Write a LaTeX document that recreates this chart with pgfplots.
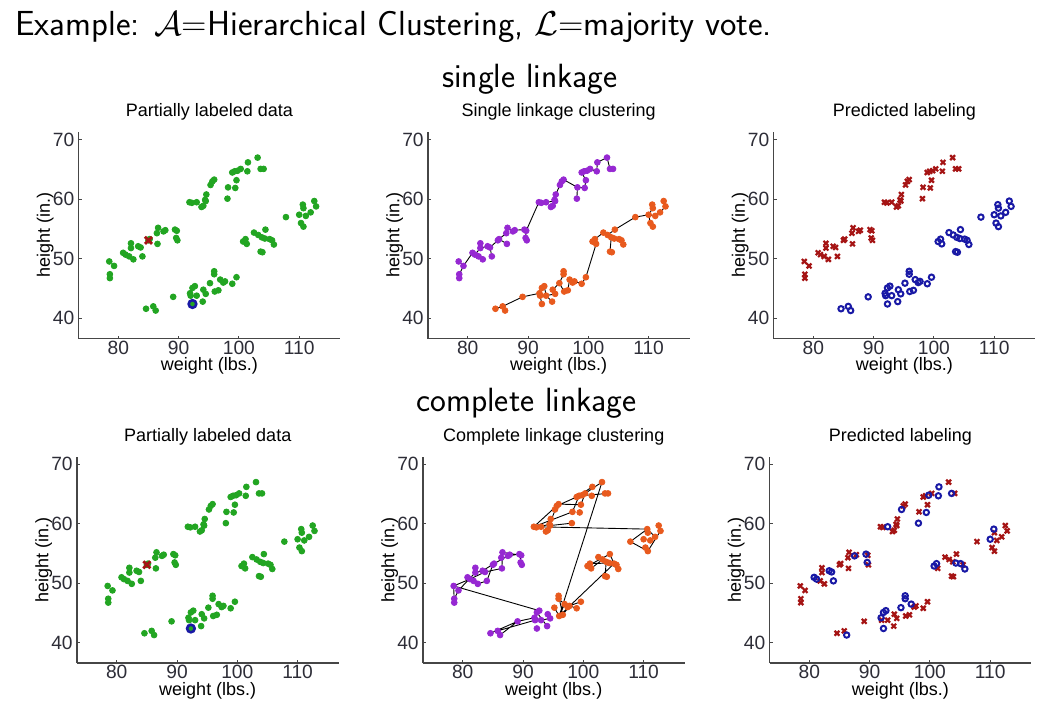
\documentclass[border=0pt]{standalone}
\usepackage{fontspec}
\setmainfont{Liberation Sans}
\usepackage{pgfplots}
\usepackage{pgfplotstable}
\pgfplotsset{compat=1.18}
\definecolor{mgreen}{RGB}{34,165,34}
\definecolor{mred}{RGB}{165,20,20}
\definecolor{mblue}{RGB}{25,25,165}
\definecolor{mpurple}{RGB}{150,40,210}
\definecolor{morange}{RGB}{232,90,30}
\definecolor{axgray}{RGB}{70,70,70}
\definecolor{tkgray}{RGB}{45,45,55}

% columns: x y group single-cluster complete-cluster complete-prediction(1=blue)
\pgfplotstableread{
x y g s c p
78.5 49.55 1 1 1 0
79.3 48.8 1 1 1 0
78.6 47.4 1 1 1 0
78.6 46.75 1 1 1 0
80.8 51.0 1 1 1 1
81.2 50.7 1 1 1 1
82.1 52.6 1 1 1 0
82.1 51.8 1 1 1 0
82.5 49.9 1 1 1 0
81.8 50.4 1 1 1 0
83.3 52.1 1 1 1 1
83.7 51.9 1 1 1 1
84.0 50.4 1 1 1 1
85.2 53.3 1 1 1 0
86.5 52.5 1 1 1 0
86.4 54.3 1 1 1 0
86.6 55.2 1 1 1 0
87.5 54.6 1 1 1 1
87.8 54.8 1 1 1 0
89.4 54.9 1 1 1 1
89.7 54.7 1 1 1 0
89.6 53.5 1 1 1 1
89.8 53.1 1 1 1 0
85.0 53.1 1 1 1 0
91.8 59.5 2 1 2 0
92.2 59.4 2 1 2 0
93.0 59.5 2 1 2 1
93.8 58.7 2 1 2 0
94.1 58.9 2 1 2 0
94.4 59.9 2 1 2 0
94.6 60.8 2 1 2 0
94.5 59.7 2 1 2 0
95.3 62.4 2 1 2 1
95.6 63.0 2 1 2 0
95.9 63.3 2 1 2 0
98.2 62.0 2 1 2 0
98.1 60.1 2 1 2 1
99.4 61.9 2 1 2 1
99.6 63.2 2 1 2 0
98.9 64.5 2 1 2 0
99.3 64.7 2 1 2 0
99.8 64.8 2 1 2 1
100.3 65.1 2 1 2 0
101.5 66.2 2 1 2 1
101.4 64.7 2 1 2 1
103.1 67.0 2 1 2 0
103.6 65.1 2 1 2 1
104.1 65.1 2 1 2 0
84.6 41.6 3 2 1 0
85.8 42.0 3 2 1 0
86.2 41.3 3 2 1 1
89.1 43.6 3 2 1 0
91.9 44.2 3 2 1 1
92.3 45.1 3 2 1 1
92.7 45.4 3 2 1 1
92.0 43.8 3 2 1 0
92.3 42.4 3 2 1 1
93.0 43.8 3 2 1 0
94.0 42.8 3 2 1 0
94.1 44.8 3 2 1 0
94.5 44.1 3 2 1 0
95.2 45.9 3 2 2 1
95.9 47.9 3 2 2 1
95.9 47.4 3 2 2 1
96.0 44.5 3 2 2 0
96.6 44.7 3 2 2 0
96.9 46.5 3 2 2 1
97.4 46.0 3 2 2 0
97.7 46.2 3 2 2 0
98.9 45.8 3 2 2 0
99.6 46.9 3 2 2 0
100.7 52.9 4 2 2 1
101.1 53.3 4 2 2 1
101.3 52.5 4 2 2 0
102.5 54.4 4 2 2 0
103.2 54.0 4 2 2 0
103.8 53.6 4 2 2 0
104.4 54.9 4 2 2 0
104.3 53.4 4 2 2 1
103.6 51.2 4 2 2 0
103.9 51.1 4 2 2 0
105.1 53.3 4 2 2 1
105.5 53.1 4 2 2 0
105.8 52.4 4 2 2 1
107.8 57.0 4 2 2 0
110.0 57.4 4 2 2 1
110.6 59.1 4 2 2 1
110.7 58.5 4 2 2 0
110.3 56.0 4 2 2 0
110.7 55.4 4 2 2 0
111.1 57.2 4 2 2 0
111.9 57.8 4 2 2 0
112.5 59.7 4 2 2 0
112.8 58.8 4 2 2 0
}\pts

\pgfplotsset{
  panel/.style={
    scale only axis, width=130.85pt, height=103.25pt,
    xmin=73.4, xmax=116.8, ymin=36.6, ymax=71.3,
    axis x line*=bottom, axis y line*=left,
    axis line style={axgray, line width=0.6pt, -},
    xtick={80,90,100,110}, ytick={40,50,60,70},
    tick align=inside, major tick length=1.5pt,
    tick style={axgray, line width=0.5pt},
    /pgf/number format/assume math mode=true,
    tick label style={font=\fontsize{9.6}{10}\selectfont, text=tkgray},
    xticklabel style={yshift=2.3pt},
    yticklabel style={xshift=1.4pt},
    label style={font=\fontsize{9}{10}\selectfont},
    xlabel={weight (lbs.)}, ylabel={height (in.)},
    xlabel style={at={(axis description cs:0.5,-0.155)}, anchor=base},
    ylabel style={at={(axis description cs:-0.109,0.5)}, anchor=base},
    title style={at={(axis description cs:0.5,1.015)}, anchor=base, font=\fontsize{9}{10}\selectfont},
    anchor=south west,
  },
  dots/.style={only marks, mark=*, mark size=1.45pt},
  xs/.style={only marks, mark=x, mark size=1.7pt, color=mred, line width=1.1pt},
  os/.style={only marks, mark=o, mark size=1.35pt, color=mblue, line width=1pt},
  lx/.style={only marks, mark=x, mark size=2.5pt, color=mred, line width=1.4pt},
  lo/.style={only marks, mark=o, mark size=1.9pt, color=mblue, line width=1.3pt},
  edges/.style={black, line width=0.45pt, no marks, unbounded coords=jump},
}

\begin{document}
\begin{tikzpicture}
\useasboundingbox (0,0) rectangle (528.5pt,-354.5pt);

\node[anchor=base west, inner sep=0pt, font=\sffamily\fontsize{17.4}{19}\selectfont] at (7.5pt,-17.5pt)
  {Example: $\mathcal{A}$=Hierarchical Clustering, $\mathcal{L}$=majority vote.};
\node[anchor=base, inner sep=0pt, font=\sffamily\fontsize{16.8}{18}\selectfont] at (265pt,-43.5pt) {single linkage};
\node[anchor=base, inner sep=0pt, font=\sffamily\fontsize{16.8}{18}\selectfont] at (263.25pt,-205.5pt) {complete linkage};

% ---------- top row ----------
\begin{axis}[panel, at={(39.25pt,-169.25pt)}, title={Partially labeled data}]
\addplot[dots, color=mgreen] table[x=x,y=y] {\pts};
\addplot[lx] coordinates {(85.0,53.1)};
\addplot[lo] coordinates {(92.3,42.4)};
\end{axis}

\begin{axis}[panel, at={(213.95pt,-169.25pt)}, title={Single linkage clustering}]
\addplot[dots, color=mpurple, restrict expr to domain={\thisrow{s}}{0.5:1.5}] table[x=x,y=y] {\pts};
\addplot[dots, color=morange, restrict expr to domain={\thisrow{s}}{1.5:2.5}] table[x=x,y=y] {\pts};
\addplot[edges] coordinates {
(78.6,46.75) (78.6,47.4) (79.3,48.8) (78.5,49.55) (nan,nan)
(79.3,48.8) (80.8,51.0) (81.2,50.7) (82.1,51.8) (82.1,52.6) (nan,nan)
(81.2,50.7) (81.8,50.4) (82.5,49.9) (nan,nan)
(82.1,51.8) (83.3,52.1) (83.7,51.9) (84.0,50.4) (nan,nan)
(83.7,51.9) (85.0,53.1) (85.2,53.3) (86.5,52.5) (nan,nan)
(85.2,53.3) (86.4,54.3) (86.6,55.2) (87.5,54.6) (87.8,54.8) (89.4,54.9) (89.7,54.7) (89.6,53.5) (89.8,53.1) (nan,nan)
(89.7,54.7) (91.8,59.5) (92.2,59.4) (93.0,59.5) (94.5,59.7) (94.4,59.9) (94.6,60.8) (95.3,62.4) (95.6,63.0) (95.9,63.3) (98.2,62.0) (98.1,60.1) (nan,nan)
(94.5,59.7) (93.8,58.7) (94.1,58.9) (nan,nan)
(98.2,62.0) (99.4,61.9) (99.6,63.2) (98.9,64.5) (99.3,64.7) (99.8,64.8) (100.3,65.1) (101.4,64.7) (101.5,66.2) (103.1,67.0) (103.6,65.1) (104.1,65.1) (nan,nan)
(84.6,41.6) (85.8,42.0) (86.2,41.3) (nan,nan)
(85.8,42.0) (89.1,43.6) (91.9,44.2) (92.0,43.8) (93.0,43.8) (92.7,45.4) (92.3,45.1) (nan,nan)
(92.0,43.8) (92.3,42.4) (nan,nan)
(93.0,43.8) (94.0,42.8) (nan,nan)
(93.0,43.8) (94.5,44.1) (94.1,44.8) (95.2,45.9) (96.0,44.5) (96.6,44.7) (96.9,46.5) (97.4,46.0) (97.7,46.2) (98.9,45.8) (99.6,46.9) (101.3,52.5) (100.7,52.9) (101.1,53.3) (102.5,54.4) (103.2,54.0) (103.8,53.6) (104.3,53.4) (105.1,53.3) (105.5,53.1) (105.8,52.4) (nan,nan)
(103.8,53.6) (103.6,51.2) (103.9,51.1) (nan,nan)
(103.2,54.0) (104.4,54.9) (107.8,57.0) (110.0,57.4) (111.1,57.2) (111.9,57.8) (112.8,58.8) (112.5,59.7) (nan,nan)
(110.0,57.4) (110.7,58.5) (110.6,59.1) (nan,nan)
(110.0,57.4) (110.3,56.0) (110.7,55.4) (nan,nan)
(95.2,45.9) (95.9,47.4) (95.9,47.9)
};
\end{axis}

\begin{axis}[panel, at={(386.75pt,-169.25pt)}, title={Predicted labeling}]
\addplot[xs, restrict expr to domain={\thisrow{s}}{0.5:1.5}] table[x=x,y=y] {\pts};
\addplot[os, restrict expr to domain={\thisrow{s}}{1.5:2.5}] table[x=x,y=y] {\pts};
\end{axis}

% ---------- bottom row ----------
\begin{axis}[panel, at={(38.45pt,-331.5pt)}, title={Partially labeled data}]
\addplot[dots, color=mgreen] table[x=x,y=y] {\pts};
\addplot[lx] coordinates {(85.0,53.1)};
\addplot[lo] coordinates {(92.3,42.4)};
\end{axis}

\begin{axis}[panel, at={(211.45pt,-331.5pt)}, title={Complete linkage clustering}]
\addplot[dots, color=mpurple, restrict expr to domain={\thisrow{c}}{0.5:1.5}] table[x=x,y=y] {\pts};
\addplot[dots, color=morange, restrict expr to domain={\thisrow{c}}{1.5:2.5}] table[x=x,y=y] {\pts};
\addplot[edges] coordinates {
(78.6,47.4) (79.3,48.8) (82.1,51.8) (83.3,52.1) (85.2,53.3) (87.5,54.6) (89.4,54.9) (89.8,53.1) (nan,nan)
(78.5,49.55) (81.2,50.7) (83.7,51.9) (86.5,52.5) (86.6,55.2) (89.7,54.7) (nan,nan)
(78.6,46.75) (78.5,49.55) (92.7,45.4) (nan,nan)
(82.5,49.9) (84.0,50.4) (85.0,53.1) (nan,nan)
(84.6,41.6) (89.1,43.6) (91.9,44.2) (93.0,43.8) (94.5,44.1) (94.1,44.8) (nan,nan)
(85.8,42.0) (92.0,43.8) (92.3,45.1) (94.0,42.8) (nan,nan)
(86.2,41.3) (89.1,43.6) (nan,nan)
(96.0,44.5) (103.1,67.0) (nan,nan)
(96.0,44.5) (105.1,53.3) (nan,nan)
(95.2,45.9) (96.0,44.5) (96.9,46.5) (98.9,45.8) (nan,nan)
(95.9,47.9) (96.6,44.7) (97.7,46.2) (99.6,46.9) (nan,nan)
(95.9,47.4) (97.4,46.0) (nan,nan)
(91.8,59.5) (110.6,59.1) (nan,nan)
(91.8,59.5) (95.9,63.3) (99.6,63.2) (100.3,65.1) (103.1,67.0) (nan,nan)
(91.8,59.5) (98.2,62.0) (99.3,64.7) (104.1,65.1) (nan,nan)
(92.2,59.4) (94.4,59.9) (95.6,63.0) (98.9,64.5) (101.5,66.2) (nan,nan)
(93.8,58.7) (94.5,59.7) (98.1,60.1) (nan,nan)
(107.8,57.0) (110.6,59.1) (111.9,57.8) (nan,nan)
(107.8,57.0) (110.7,55.4) (112.8,58.8) (nan,nan)
(100.7,52.9) (104.4,54.9) (105.1,53.3) (nan,nan)
(101.3,52.5) (103.2,54.0) (105.5,53.1) (nan,nan)
(103.6,51.2) (103.8,53.6) (102.5,54.4) (nan,nan)
(101.1,53.3) (104.3,53.4) (105.8,52.4)
};
\end{axis}

\begin{axis}[panel, at={(384.75pt,-331.5pt)}, title={Predicted labeling}]
\addplot[xs, restrict expr to domain={\thisrow{p}}{-0.5:0.5}] table[x=x,y=y] {\pts};
\addplot[os, restrict expr to domain={\thisrow{p}}{0.5:1.5}] table[x=x,y=y] {\pts};
\end{axis}
\end{tikzpicture}
\end{document}
